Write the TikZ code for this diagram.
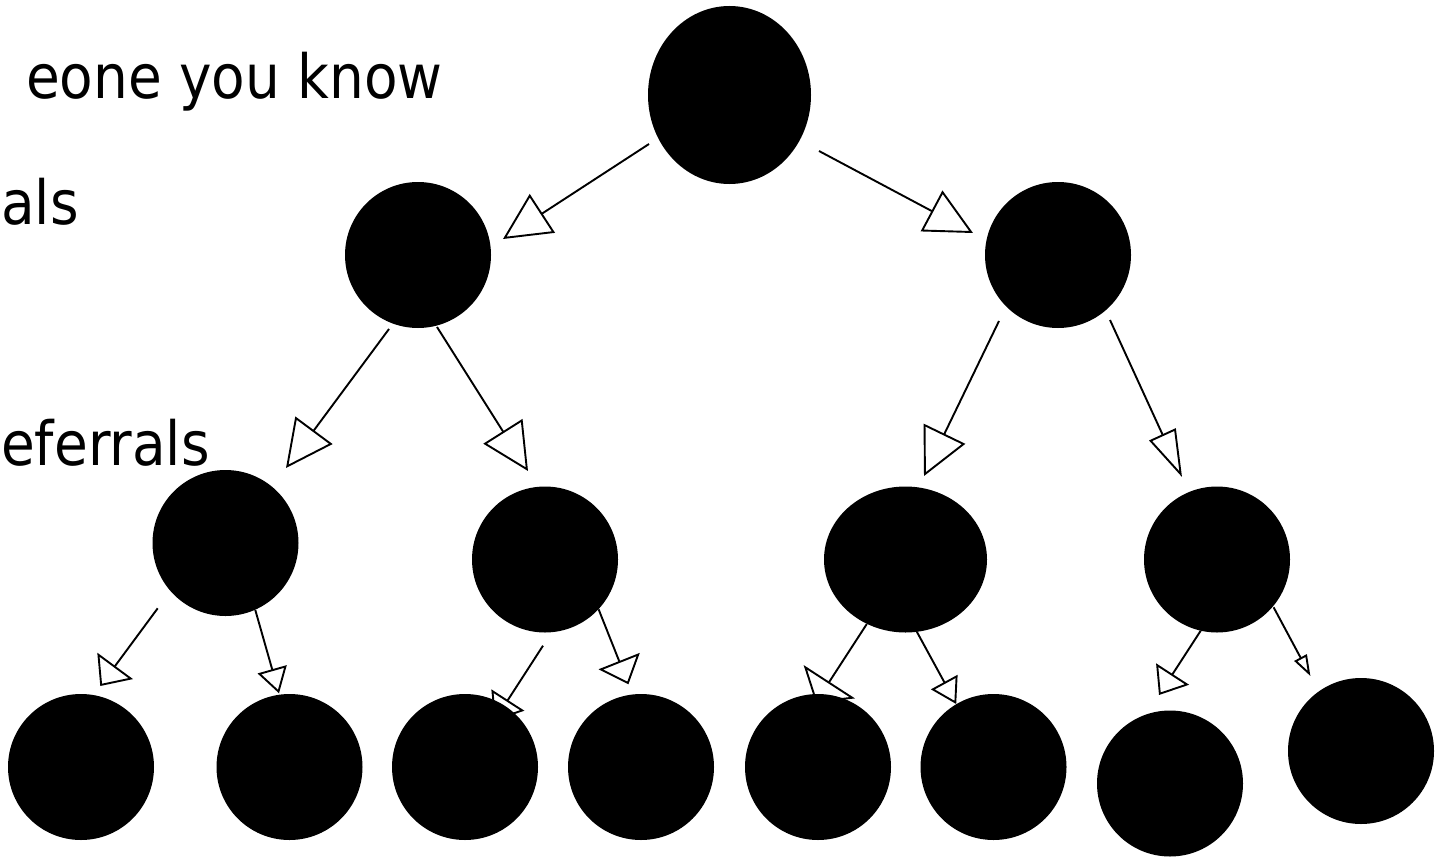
\documentclass[tikz,border=0pt]{standalone}
\usepackage{fontspec}
\setmainfont{DejaVu Sans Condensed}
\usetikzlibrary{arrows.meta,shapes.geometric}
\begin{document}
\begin{tikzpicture}[x=1pt,y=-1pt,
  dot/.style={fill=black, draw=none, circle, minimum size=146pt, inner sep=0pt},
  odot/.style={fill=black, draw=none, ellipse, inner sep=0pt},
  lbl/.style={font=\fontsize{61}{70}\selectfont, inner sep=0pt},
  con/.style={draw=black, line width=1.9pt},
  tipA/.style={-{Triangle[open, length=47pt, width=46pt]}},
  tipB/.style={-{Triangle[open, length=47pt, width=29pt]}},
  tipC/.style={-{Triangle[open, length=25pt, width=44pt]}},
  tipD/.style={-{Triangle[open, length=25pt, width=30pt]}},
  tipE/.style={-{Triangle[open, length=25pt, width=39pt]}},
  tipF/.style={-{Triangle[open, length=25pt, width=61pt]}},
  tipG/.style={-{Triangle[open, length=21pt, width=14pt]}}]
\useasboundingbox (0,0) rectangle (1440,859);

% text
\node[lbl, anchor=base east] (t1) at (443,98) {eone you know};
\node[lbl, anchor=base west] (t2) at (1,224) {als};
\node[lbl, anchor=base west] (t3) at (1,465) {eferrals};

% connector end points
\coordinate (s1) at (649,144);     \coordinate (e1) at (503,239);
\coordinate (s2) at (819,151);     \coordinate (e2) at (973,233);
\coordinate (s3) at (389,329);     \coordinate (e3) at (286,468);
\coordinate (s4) at (437,327);     \coordinate (e4) at (528,471);
\coordinate (s5) at (999,321);     \coordinate (e5) at (924,476);
\coordinate (s6) at (1110,320);    \coordinate (e6) at (1182,477);
\coordinate (s7) at (157.7,608.3); \coordinate (e7) at (100.3,686);
\coordinate (s8) at (255.3,610);   \coordinate (e8) at (279,693.3);
\coordinate (s9) at (543,645.7);   \coordinate (e9) at (494.3,721);
\coordinate (s10) at (598.6,609.3); \coordinate (e10) at (628.4,684.3);
\coordinate (s11) at (866.8,624);  \coordinate (e11) at (815.7,702.7);
\coordinate (s12) at (916.8,631.7); \coordinate (e12) at (956.2,704);
\coordinate (s13) at (1200.7,630.7); \coordinate (e13) at (1159,695);
\coordinate (s14) at (1273.6,607.3); \coordinate (e14) at (1310.4,676);

% connectors
\draw[con, tipA] (s1) -- (e1);
\draw[con, tipA] (s2) -- (e2);
\draw[con, tipA] (s3) -- (e3);
\draw[con, tipA] (s4) -- (e4);
\draw[con, tipA] (s5) -- (e5);
\draw[con, tipB] (s6) -- (e6);
\draw[con, tipC] (s7) -- (e7);
\draw[con, tipD] (s8) -- (e8);
\draw[con, tipE] (s9) -- (e9);
\draw[con, tipC] (s10) -- (e10);
\draw[con, tipF] (s11) -- (e11);
\draw[con, tipD] (s12) -- (e12);
\draw[con, tipE] (s13) -- (e13);
\draw[con, tipG] (s14) -- (e14);

% nodes
\node[odot, minimum width=163pt, minimum height=178pt] (top) at (729.5,95) {};
\node[dot] (l) at (418,255) {};
\node[dot] (r) at (1058,255) {};
\node[dot] (a) at (225.5,543) {};
\node[dot] (b) at (545,559.5) {};
\node[odot, minimum width=163pt, minimum height=146pt] (c) at (905.5,559.5) {};
\node[dot] (d) at (1217,559.5) {};
\node[dot] (n1) at (81,767) {};
\node[dot] (n2) at (289.5,767) {};
\node[dot] (n3) at (465,767) {};
\node[dot] (n4) at (641,767) {};
\node[dot] (n5) at (818,767) {};
\node[dot] (n6) at (993.5,767) {};
\node[dot] (n7) at (1170,783.5) {};
\node[dot] (n8) at (1361,751) {};
\end{tikzpicture}
\end{document}
